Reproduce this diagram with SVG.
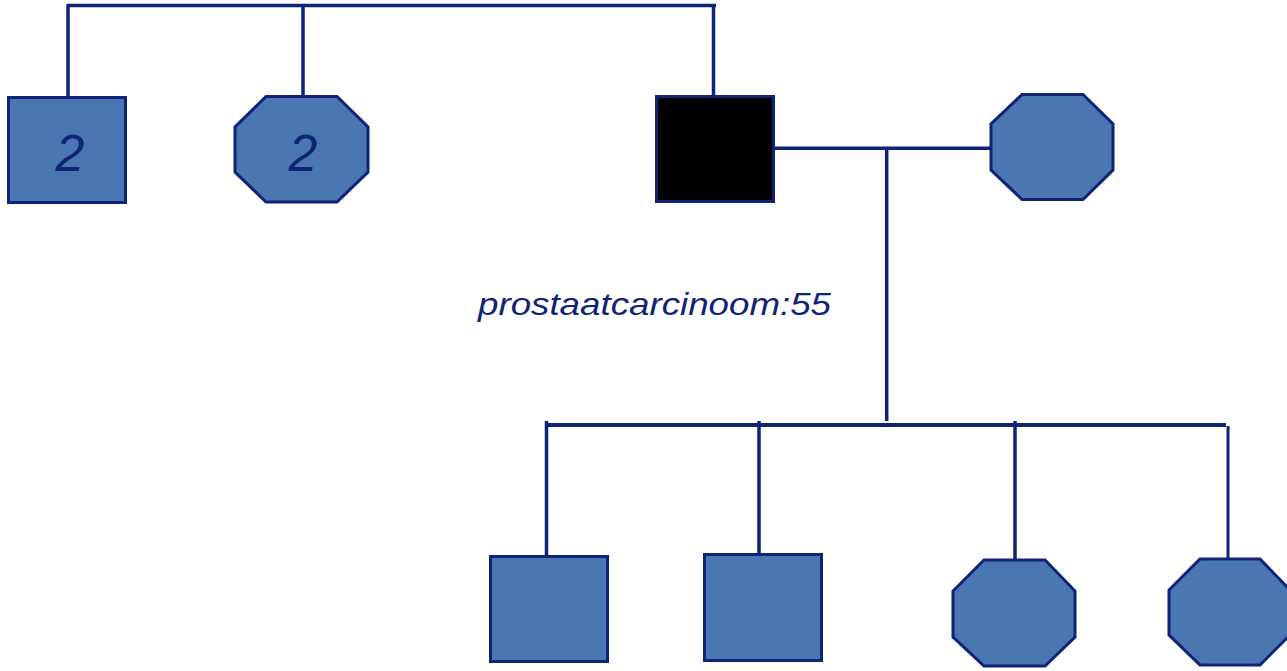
<svg xmlns="http://www.w3.org/2000/svg" width="1287" height="671" viewBox="0 0 1287 671">
  <style>
    .line { stroke: #0f2377; fill: none; stroke-width: 3.5; }
    .thick { stroke-width: 4; }
    .shape { fill: #4a77b2; stroke: #0f2377; stroke-width: 3; }
    .affected { fill: #000000; stroke: #0f2377; stroke-width: 3; }
    .label { font-family: "Liberation Sans", Arial, sans-serif; font-style: italic; fill: #0f2377; }
  </style>
  <rect width="1287" height="671" fill="#ffffff"/>

  <!-- connectors -->
  <g id="connectors">
    <path class="line" d="M66.5 5.5 H716 M68 5.5 V97 M303 5.5 V97 M713.5 5.5 V97"/>
    <path class="line" d="M775 148.3 H991 M886.7 148.3 V421"/>
    <path class="line thick" d="M546 425 H1226"/>
    <path class="line" d="M546.5 421 V559 M759 421 V559 M1015 421 V559"/>
    <path class="line" d="M1228 426 V563" style="stroke-width:3"/>
  </g>

  <!-- generation I -->
  <g id="sibling-males">
    <rect class="shape" x="8.5" y="97.5" width="117" height="105"/>
    <text class="label" x="70" y="171" font-size="52" text-anchor="middle">2</text>
  </g>
  <g id="sibling-females">
    <polygon class="shape" points="266,96.5 337,96.5 368,127 368,172 337,202 266,202 235,172 235,127"/>
    <text class="label" x="303" y="171" font-size="52" text-anchor="middle">2</text>
  </g>
  <g id="proband-father">
    <rect class="affected" x="656.5" y="96.5" width="117" height="105"/>
  </g>
  <g id="spouse">
    <polygon class="shape" points="1022,94.5 1083,94.5 1113,124 1113,170 1083,199.5 1022,199.5 991,170 991,124"/>
  </g>
  <text id="diagnosis" class="label" x="478" y="315" font-size="32" textLength="353" lengthAdjust="spacingAndGlyphs">prostaatcarcinoom:55</text>

  <!-- generation II -->
  <g id="son-1">
    <rect class="shape" x="490.5" y="556.5" width="117" height="105"/>
  </g>
  <g id="son-2">
    <rect class="shape" x="704.5" y="554.5" width="117" height="106"/>
  </g>
  <g id="daughter-1">
    <polygon class="shape" points="984,560 1045,560 1075,591 1075,637 1045,666 984,666 953,637 953,591"/>
  </g>
  <g id="daughter-2">
    <polygon class="shape" points="1200,559 1260,559 1290,590 1290,635 1260,665 1200,665 1169,635 1169,590"/>
  </g>
</svg>
